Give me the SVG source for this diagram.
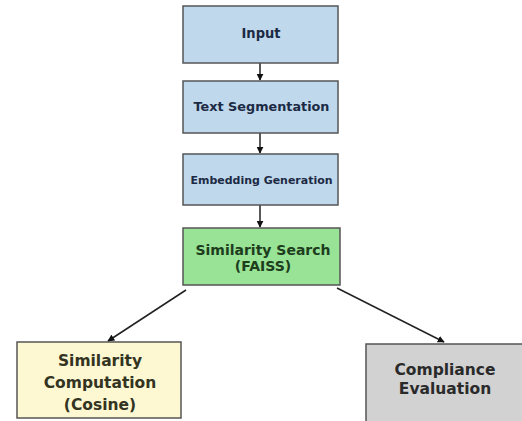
<svg xmlns="http://www.w3.org/2000/svg" width="522" height="421" viewBox="0 0 522 421">
<defs>
<marker id="ah" viewBox="0 0 10 10" refX="9" refY="5" markerWidth="7" markerHeight="7" orient="auto-start-reverse" markerUnits="userSpaceOnUse">
<path d="M0,0 L10,5 L0,10 z" fill="#111"/>
</marker>
<style>
.box{stroke:#555;stroke-width:1.5}
.blue{fill:#bfd8ec}
.green{fill:#98e395}
.yellow{fill:#fdf8d2}
.gray{fill:#d2d2d2}
text{font-family:"DejaVu Sans",sans-serif;font-weight:bold;text-anchor:middle}
.tb{fill:#1c2a44}
.tg{fill:#1d3d1d}
.ty{fill:#333322}
.tk{fill:#2a2a2a}
.conn{stroke:#222;stroke-width:1.5;fill:none}
</style>
</defs>
<rect width="522" height="421" fill="#fff"/>
<g id="connectors">
<line class="conn" x1="260" y1="63" x2="260" y2="80" marker-end="url(#ah)"/>
<line class="conn" x1="260" y1="133" x2="260" y2="153" marker-end="url(#ah)"/>
<line class="conn" x1="260" y1="205" x2="260" y2="227" marker-end="url(#ah)"/>
<line class="conn" x1="186" y1="290" x2="108" y2="341" marker-end="url(#ah)"/>
<line class="conn" x1="337" y1="288" x2="444" y2="342" marker-end="url(#ah)"/>
</g>
<g id="input">
<rect class="box blue" x="183" y="6" width="155" height="57"/>
<text class="tb" x="261" y="38" font-size="13.5" textLength="39" lengthAdjust="spacingAndGlyphs">Input</text>
</g>
<g id="text-segmentation">
<rect class="box blue" x="183" y="81" width="155" height="52"/>
<text class="tb" x="261.5" y="111" font-size="12.5" textLength="136" lengthAdjust="spacingAndGlyphs">Text Segmentation</text>
</g>
<g id="embedding-generation">
<rect class="box blue" x="183" y="154" width="155" height="51"/>
<text class="tb" x="261.5" y="184" font-size="10.5" textLength="142" lengthAdjust="spacingAndGlyphs">Embedding Generation</text>
</g>
<g id="similarity-search">
<rect class="box green" x="183" y="228" width="157" height="57"/>
<text class="tg" x="263" y="255" font-size="14" textLength="135" lengthAdjust="spacingAndGlyphs">Similarity Search</text>
<text class="tg" x="263" y="271" font-size="14">(FAISS)</text>
</g>
<g id="similarity-computation">
<rect class="box yellow" x="17" y="342" width="164" height="76"/>
<text class="ty" x="100" y="366" font-size="15.5">Similarity</text>
<text class="ty" x="100" y="388" font-size="15.5">Computation</text>
<text class="ty" x="100" y="410" font-size="15.5">(Cosine)</text>
</g>
<g id="compliance-evaluation">
<rect class="box gray" x="366" y="344" width="160" height="80"/>
<text class="tk" x="445" y="375" font-size="15.5">Compliance</text>
<text class="tk" x="445" y="394" font-size="15.5">Evaluation</text>
</g>
</svg>
